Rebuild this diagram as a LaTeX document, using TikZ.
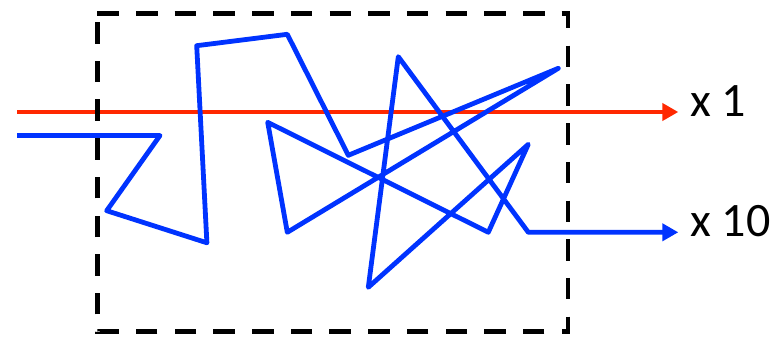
\documentclass[tikz,border=0pt]{standalone}
\usepackage{fontspec}
\setmainfont{Carlito}
\usetikzlibrary{arrows.meta}
\definecolor{wred}{RGB}{255,40,0}
\definecolor{wblue}{RGB}{0,51,255}
\begin{document}
\begin{tikzpicture}[x=1pt,y=-1pt,
  frame/.style={draw=black, line width=4.6pt, dash pattern=on 21.5pt off 17.2pt},
  sig/.style={line width=4.8pt, line join=round},
  tipped/.style={-{Triangle[length=16pt,width=17pt]}},
  lbl/.style={font=\fontsize{48}{52}\selectfont, inner sep=0pt, anchor=base west}]
\useasboundingbox (0,0) rectangle (783,337);
% frame corners
\coordinate (f1) at (97.3,13.3);
\coordinate (f2) at (568,13.3);
\coordinate (f3) at (568,331.7);
\coordinate (f4) at (97.3,331.7);
% red signal
\coordinate (r0) at (17,112);
\coordinate (r1) at (678.3,112);
% blue signal vertices
\coordinate (b0) at (17,135.5);
\coordinate (b1) at (160,135.5);
\coordinate (b2) at (106.7,210.7);
\coordinate (b3) at (206.9,242.8);
\coordinate (b4) at (196.7,45.7);
\coordinate (b5) at (287.3,34.3);
\coordinate (b6) at (348.3,155.3);
\coordinate (b7) at (558.3,68.3);
\coordinate (b8) at (287.3,232.3);
\coordinate (b9) at (267.7,122.3);
\coordinate (b10) at (488.3,232.3);
\coordinate (b11) at (528.3,144.3);
\coordinate (b12) at (368.3,287.3);
\coordinate (b13) at (398.3,56.7);
\coordinate (b14) at (528.3,232.3);
\coordinate (b15) at (678.3,232.3);
% labels
\node[lbl] (l1) at (690,116.7) {x 1};
\node[lbl] (l10) at (690,236) {x 10};
% drawing
\draw[sig, wred, tipped] (r0) -- (r1);
\draw[sig, wblue, tipped] (b0) -- (b1) -- (b2) -- (b3) -- (b4) -- (b5) -- (b6) -- (b7) -- (b8) -- (b9) -- (b10) -- (b11) -- (b12) -- (b13) -- (b14) -- (b15);
\draw[frame] (f1) -- (f2) -- (f3) -- (f4) -- cycle;
\end{tikzpicture}
\end{document}
